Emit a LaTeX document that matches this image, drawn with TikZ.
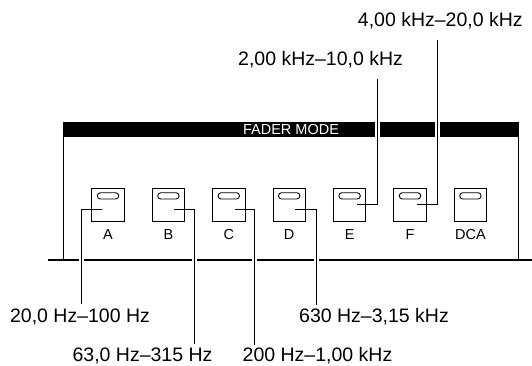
\documentclass[tikz,border=0pt]{standalone}
\usepackage{fontspec}
\setmainfont{Liberation Sans}
\usetikzlibrary{positioning}
\tikzset{
    fadebutton/.style={
        rectangle,                % tecla cuadrada
        draw=black,
        line width=0.9pt,
        fill=white,
        minimum size=32.5pt,      % mismo tamaño para todas las teclas
        inner sep=0pt,
        path picture={            % LED alargado en la parte superior de la tecla
            \draw[line width=0.9pt, rounded corners=3.1pt]
                ([xshift=-10.7pt,yshift=5.75pt]path picture bounding box.center)
                rectangle ([xshift=10.7pt,yshift=12.05pt]path picture bounding box.center);
        }
    },
    btnlabel/.style={
        font=\fontsize{14.5}{17}\selectfont, % nombre de la tecla
        inner sep=0pt
    },
    modebar/.style={
        rectangle,
        fill=black,               % franja negra del panel
        text=white,
        font=\fontsize{14.5}{17}\selectfont,
        minimum width=455.4pt,
        minimum height=14.5pt,
        inner sep=0pt,
        outer sep=0pt
    },
    freqlabel/.style={
        font=\fontsize{19.5}{23}\selectfont, % rangos de frecuencia
        inner sep=0pt,
        anchor=base
    }
}
\begin{document}
\begin{tikzpicture}[
        x=1pt, y=-1pt,
        leader/.style={draw=black, line width=0.9pt},
        halo/.style={draw=white, line width=5pt}
    ]
    \useasboundingbox (0,0) rectangle (532,365);

    % panel
    \node[modebar] (bar) at (291,129.25) {FADER MODE};
    \coordinate (railL) at (48,260);
    \coordinate (railR) at (532,260);
    \draw[line width=2pt] (railL) -- (railR);
    \draw[line width=1.5pt] (bar.south west) -- (bar.south west |- railL);
    \draw[line width=1.5pt] (bar.south east) -- (bar.south east |- railL);

    % teclas
    \node[fadebutton] (btnA) at (108,204.75) {};
    \node[fadebutton, right=27pt of btnA] (btnB) {};
    \node[fadebutton, right=27pt of btnB] (btnC) {};
    \node[fadebutton, right=27pt of btnC] (btnD) {};
    \node[fadebutton, right=27pt of btnD] (btnE) {};
    \node[fadebutton, right=27pt of btnE] (btnF) {};
    \node[fadebutton, right=27pt of btnF] (btnDCA) {};

    \node[btnlabel, below=7.5pt of btnA] (keyA) {A};
    \node[btnlabel, below=7.5pt of btnB] (keyB) {B};
    \node[btnlabel, below=7.5pt of btnC] (keyC) {C};
    \node[btnlabel, below=7.5pt of btnD] (keyD) {D};
    \node[btnlabel, below=7.5pt of btnE] (keyE) {E};
    \node[btnlabel, below=7.5pt of btnF] (keyF) {F};
    \node[btnlabel, below=7.5pt of btnDCA] (keyDCA) {DCA};

    % puntos de salida de las lineas de referencia
    \coordinate (tapA) at ([shift={(-6,5)}]btnA.center);
    \coordinate (tapB) at ([shift={(6,5)}]btnB.center);
    \coordinate (tapC) at ([shift={(6,5)}]btnC.center);
    \coordinate (tapD) at ([shift={(6,5)}]btnD.center);
    \coordinate (tapE) at ([shift={(7,0)}]btnE.center);
    \coordinate (tapF) at ([shift={(7,0)}]btnF.center);

    \coordinate (endA) at (81,304);
    \coordinate (endB) at (194.3,344.3);
    \coordinate (endC) at (254.7,345);
    \coordinate (endD) at (316,305);
    \coordinate (endE) at (377.7,78.7);
    \coordinate (endF) at (437.3,40);

    % cortes blancos donde las lineas cruzan el panel
    \draw[halo] (tapA -| endA) -- (endA);
    \draw[halo] (tapB -| endB) -- (endB);
    \draw[halo] (tapC -| endC) -- (endC);
    \draw[halo] (tapD -| endD) -- (endD);
    \draw[halo] (tapE -| endE) -- (endE);
    \draw[halo] (tapF -| endF) -- (endF);

    \draw[leader] (tapA) -| (endA);
    \draw[leader] (tapB) -| (endB);
    \draw[leader] (tapC) -| (endC);
    \draw[leader] (tapD) -| (endD);
    \draw[leader] (tapE) -| (endE);
    \draw[leader] (tapF) -| (endF);

    % rangos
    \node[freqlabel] (freqA) at (80,322.7) {20,0 Hz–100 Hz};
    \node[freqlabel] (freqB) at (142.5,361.7) {63,0 Hz–315 Hz};
    \node[freqlabel] (freqC) at (317.5,361.7) {200 Hz–1,00 kHz};
    \node[freqlabel] (freqD) at (374,322.7) {630 Hz–3,15 kHz};
    \node[freqlabel] (freqE) at (320.6,65) {2,00 kHz–10,0 kHz};
    \node[freqlabel] (freqF) at (440.3,26.7) {4,00 kHz–20,0 kHz};
\end{tikzpicture}
\end{document}
